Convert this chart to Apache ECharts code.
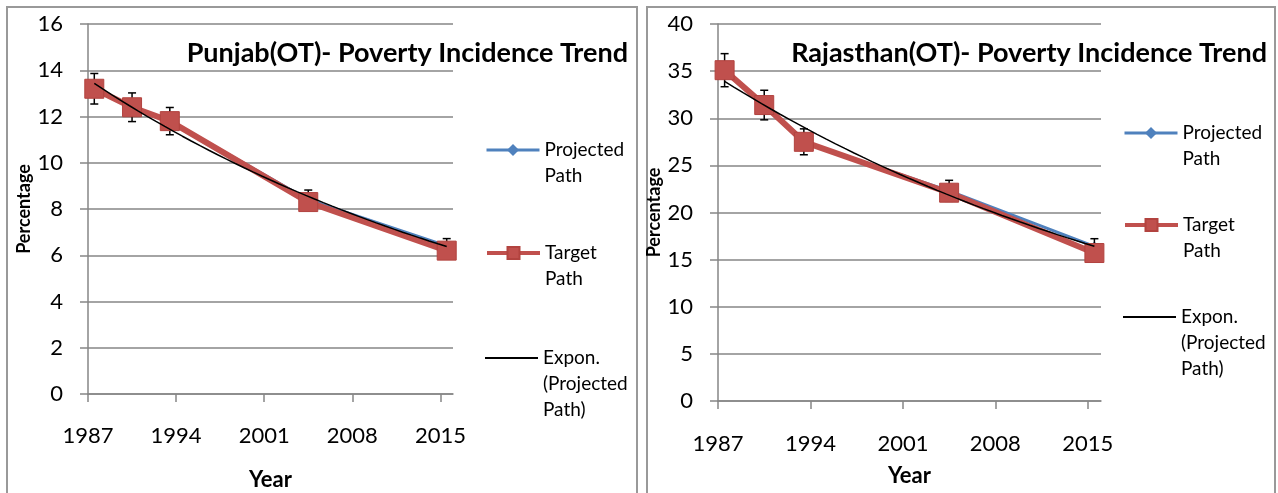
<!DOCTYPE html>
<html>
<head>
<meta charset="utf-8">
<script src="https://cdn.jsdelivr.net/npm/echarts@6/dist/echarts.min.js"></script>
<style>
  html, body { margin: 0; padding: 0; background: #fff; }
  #chart { width: 1278px; height: 493px; }
</style>
</head>
<body>
<div id="chart"></div>
<script>
// 横轴：调查年份与刻度
const years = [1987.5, 1990.5, 1993.5, 2004.5, 2015.5];
const yearTicks = [1987, 1994, 2001, 2008, 2015];

// Punjab(OT)
const punjabProjected = [13.2, 12.4, 11.8, 8.4, 6.4];
const punjabTarget = [13.2, 12.4, 11.8, 8.3, 6.2];

// Rajasthan(OT)
const rajProjected = [35.1, 31.4, 27.5, 22.3, 16.4];
const rajTarget = [35.1, 31.4, 27.5, 22.1, 15.7];

// 误差线：百分比
const errorPct = 5;

const FONT = 'Lato';
const AXIS_GRAY = '#868686';
const BLUE = '#4F81BD';
const RED = '#C0504D';

const chart = echarts.init(document.getElementById('chart'));

// 指数趋势线（对 Projected Path 做最小二乘拟合，同 Excel 的 Expon. 趋势线）
function expTrend(xs, ys) {
  const n = xs.length;
  const mx = xs.reduce((a, b) => a + b, 0) / n;
  const ly = ys.map(Math.log);
  const my = ly.reduce((a, b) => a + b, 0) / n;
  let sxy = 0, sxx = 0;
  xs.forEach((x, i) => { sxy += (x - mx) * (ly[i] - my); sxx += (x - mx) * (x - mx); });
  const b = sxy / sxx, a = my - b * mx;
  const pts = [];
  const x0 = xs[0], x1 = xs[n - 1];
  for (let k = 0; k <= 40; k++) {
    const x = x0 + (x1 - x0) * k / 40;
    pts.push([x, Math.exp(a + b * x)]);
  }
  return pts;
}

function pairs(ys) { return years.map((x, i) => [x, ys[i]]); }

// 误差线（自定义系列）
function errorSeries(idx, ys) {
  return {
    type: 'custom', xAxisIndex: idx, yAxisIndex: idx, z: 3, silent: true,
    data: years.map((x, i) => [x, ys[i] * (1 - errorPct / 100), ys[i] * (1 + errorPct / 100)]),
    renderItem(params, api) {
      const lo = api.coord([api.value(0), api.value(1)]);
      const hi = api.coord([api.value(0), api.value(2)]);
      const w = 4;
      const st = { stroke: '#000', lineWidth: 1.5 };
      return {
        type: 'group', children: [
          { type: 'line', shape: { x1: lo[0], y1: lo[1], x2: hi[0], y2: hi[1] }, style: st },
          { type: 'line', shape: { x1: hi[0] - w, y1: hi[1], x2: hi[0] + w, y2: hi[1] }, style: st },
          { type: 'line', shape: { x1: lo[0] - w, y1: lo[1], x2: lo[0] + w, y2: lo[1] }, style: st }
        ]
      };
    }
  };
}

function xAxisOf(idx, gap, margin) {
  return {
    type: 'value', gridIndex: idx, min: 1987, max: 2016,
    name: 'Year', nameLocation: 'middle', nameGap: gap,
    nameTextStyle: { fontFamily: FONT, fontSize: 22, fontWeight: 'bold', color: '#000' },
    axisLine: { lineStyle: { color: AXIS_GRAY, width: 1.5 } },
    axisTick: { show: true, length: 8, customValues: yearTicks, lineStyle: { color: AXIS_GRAY, width: 1.5 } },
    axisLabel: { customValues: yearTicks, formatter: v => String(v), fontFamily: FONT, fontSize: 22, color: '#000', margin: margin },
    splitLine: { show: false }
  };
}

function yAxisOf(idx, max, interval, gap) {
  return {
    type: 'value', gridIndex: idx, min: 0, max: max, interval: interval,
    name: 'Percentage', nameLocation: 'middle', nameGap: gap, nameRotate: 90,
    nameTextStyle: { fontFamily: FONT, fontSize: 18, fontWeight: 'bold', color: '#000' },
    axisLine: { show: true, lineStyle: { color: AXIS_GRAY, width: 1.5 } },
    axisTick: { show: true, length: 8, lineStyle: { color: AXIS_GRAY, width: 1.5 } },
    axisLabel: { fontFamily: FONT, fontSize: 22, color: '#000', margin: 25 },
    splitLine: { lineStyle: { color: AXIS_GRAY, width: 1.5 } }
  };
}

function chartSeries(idx, projected, target) {
  return [
    {
      name: 'Projected Path', type: 'line', xAxisIndex: idx, yAxisIndex: idx, z: 2,
      data: pairs(projected), symbol: 'diamond', symbolSize: 10,
      lineStyle: { color: BLUE, width: 3 }, itemStyle: { color: BLUE }
    },
    errorSeries(idx, projected),
    {
      name: 'Target Path', type: 'line', xAxisIndex: idx, yAxisIndex: idx, z: 4,
      data: pairs(target), symbol: 'rect', symbolSize: 19,
      lineStyle: { color: RED, width: 6 }, itemStyle: { color: RED, borderColor: '#B2433F', borderWidth: 1 }
    },
    {
      name: 'Expon. (Projected Path)', type: 'line', xAxisIndex: idx, yAxisIndex: idx, z: 5,
      data: expTrend(years, projected), symbol: 'none',
      lineStyle: { color: '#000', width: 1.5 }, itemStyle: { color: '#000' }
    }
  ];
}

// 每个图例项单独放置；前置空行使图标对齐首行文字
const legendText = {
  'Projected Path': ['Projected', 'Path'],
  'Target Path': ['Target', 'Path'],
  'Expon. (Projected Path)': ['Expon.', '(Projected', 'Path)']
};
const LH = 26;
function legendItem(name, left, lineY) {
  const lines = legendText[name];
  const n = lines.length;
  const isTrend = name.indexOf('Expon') === 0;
  const item = isTrend ? { name: name, icon: 'rect', itemStyle: { color: '#000' } } : { name: name };
  return {
    left: left, top: lineY - (2 * n - 1) * LH / 2, padding: 0,
    itemWidth: 53, itemHeight: isTrend ? 2 : 15, selectedMode: false,
    data: [item],
    formatter: () => new Array(n).join(' \n') + lines.join('\n'),
    lineStyle: { width: name === 'Target Path' ? 4 : 3 },
    textStyle: { fontFamily: FONT, fontSize: 19, color: '#000', lineHeight: LH }
  };
}

const titleStyle = { fontFamily: FONT, fontSize: 27, fontWeight: 'bold', color: '#000' };

const option = {
  animation: false,
  title: [
    { text: 'Punjab(OT)- Poverty Incidence Trend', right: 650, top: 40, padding: 0, textStyle: titleStyle },
    { text: 'Rajasthan(OT)- Poverty Incidence Trend', right: 11, top: 40, padding: 0, textStyle: titleStyle }
  ],
  grid: [
    { left: 88, top: 24, width: 365, height: 370, outerBoundsMode: 'none', containLabel: false },
    { left: 718, top: 24, width: 383, height: 377, outerBoundsMode: 'none', containLabel: false }
  ],
  xAxis: [xAxisOf(0, 75, 31), xAxisOf(1, 64, 32)],
  yAxis: [yAxisOf(0, 16, 2, 51), yAxisOf(1, 40, 5, 42)],
  legend: [
    legendItem('Projected Path', 485, 150),
    legendItem('Target Path', 485, 253),
    legendItem('Expon. (Projected Path)', 485, 358),
    legendItem('Projected Path', 1123, 133),
    legendItem('Target Path', 1123, 225),
    legendItem('Expon. (Projected Path)', 1123, 317)
  ],
  graphic: [
    { type: 'rect', silent: true, shape: { x: 7, y: 7, width: 630, height: 520 }, style: { fill: 'none', stroke: '#999', lineWidth: 2 } },
    { type: 'rect', silent: true, shape: { x: 647, y: 7, width: 628, height: 520 }, style: { fill: 'none', stroke: '#999', lineWidth: 2 } }
  ],
  series: [].concat(chartSeries(0, punjabProjected, punjabTarget), chartSeries(1, rajProjected, rajTarget))
};

chart.setOption(option);
window.addEventListener('resize', () => chart.resize());
</script>
</body>
</html>
